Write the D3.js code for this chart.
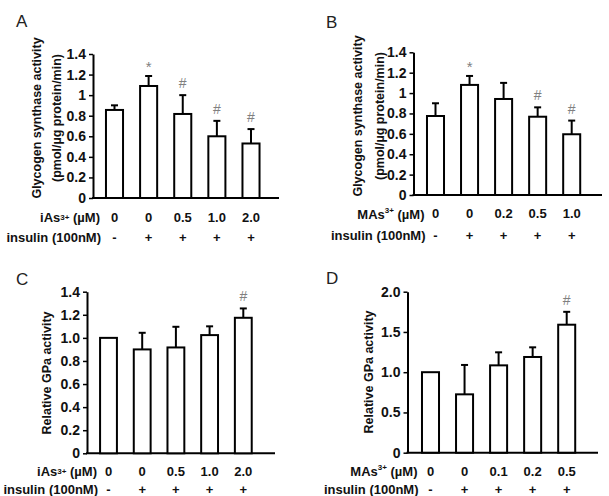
<!DOCTYPE html>
<html><head><meta charset="utf-8">
<script src="https://cdn.jsdelivr.net/npm/d3@7"></script>
<style>
html,body{margin:0;padding:0;background:#fff;}
svg{display:block;}
text{font-family:"Liberation Sans",Arial,sans-serif;}
</style></head>
<body>
<svg id="chart" width="609" height="496"></svg>
<script>
// ---------- data ----------
const panelLetters = ["A", "B", "C", "D"];
const insulinRow = ["-", "+", "+", "+", "+"];

const doseA = ["0", "0", "0.5", "1.0", "2.0"];
const valuesA = [0.856, 1.089, 0.817, 0.60, 0.53];
const errorsA = [0.045, 0.097, 0.183, 0.15, 0.14];
const marksA = ["", "*", "#", "#", "#"];

const doseB = ["0", "0", "0.2", "0.5", "1.0"];
const valuesB = [0.775, 1.08, 0.942, 0.768, 0.596];
const errorsB = [0.125, 0.088, 0.158, 0.092, 0.134];
const marksB = ["", "*", "", "#", "#"];

const doseC = ["0", "0", "0.5", "1.0", "2.0"];
const valuesC = [1.0, 0.90, 0.917, 1.024, 1.174];
const errorsC = [0, 0.144, 0.179, 0.076, 0.081];
const marksC = ["", "", "", "", "#"];

const doseD = ["0", "0", "0.1", "0.2", "0.5"];
const valuesD = [1.0, 0.725, 1.085, 1.189, 1.59];
const errorsD = [0, 0.365, 0.162, 0.12, 0.16];
const marksD = ["", "", "", "", "#"];

const ticksGS = [0, 0.2, 0.4, 0.6, 0.8, 1.0, 1.2, 1.4];
const tickLabelsGS = ["0", "0.2", "0.4", "0.6", "0.8", "1", "1.2", "1.4"];
const ticksC = [0, 0.2, 0.4, 0.6, 0.8, 1.0, 1.2, 1.4];
const tickLabelsC = ["0", "0.2", "0.4", "0.6", "0.8", "1.0", "1.2", "1.4"];
const ticksD = [0, 0.5, 1.0, 1.5, 2.0];
const tickLabelsD = ["0", "0.5", "1.0", "1.5", "2.0"];

const yTitleGS = ["Glycogen synthase activity", "(pmol/\u00b5g protein/min)"];
const yTitleGP = ["Relative GPa activity"];

// ---------- layout ----------
const panels = [
  {letter: panelLetters[0], lx: 16, ly: 27, ax: 93, y0: 198, yTop: 54, xEnd: 279, c1: 114.5, c5: 251,
   yMax: 1.4, ticks: ticksGS, tickLabels: tickLabelsGS, vals: valuesA, errs: errorsA, marks: marksA,
   dose: doseA, drug: "iAs", sup: "3+", supDy: 0, row1: 217, row2: 237, rowRight: 100,
   title: yTitleGS, titleX: [37, 57], titleCy: 118},
  {letter: panelLetters[1], lx: 326, ly: 28, ax: 413.5, y0: 195, yTop: 52.3, xEnd: 602, c1: 435.5, c5: 571.7,
   yMax: 1.4, ticks: ticksGS, tickLabels: tickLabelsGS, vals: valuesB, errs: errorsB, marks: marksB,
   dose: doseB, drug: "MAs", sup: "3+", supDy: -4, row1: 213.5, row2: 235, rowRight: 424.5,
   title: yTitleGS, titleX: [357.5, 380], titleCy: 116},
  {letter: panelLetters[2], lx: 16, ly: 285, ax: 87, y0: 453.3, yTop: 291.7, xEnd: 275, c1: 108.5, c5: 243.3,
   yMax: 1.4, ticks: ticksC, tickLabels: tickLabelsC, vals: valuesC, errs: errorsC, marks: marksC,
   dose: doseC, drug: "iAs", sup: "3+", supDy: 0, row1: 471, row2: 489, rowRight: 97,
   title: yTitleGP, titleX: [46.5], titleCy: 373},
  {letter: panelLetters[3], lx: 326, ly: 284, ax: 407.5, y0: 452.7, yTop: 291.7, xEnd: 598, c1: 430.5, c5: 566.7,
   yMax: 2.0, ticks: ticksD, tickLabels: tickLabelsD, vals: valuesD, errs: errorsD, marks: marksD,
   dose: doseD, drug: "MAs", sup: "3+", supDy: -4, row1: 471, row2: 489, rowRight: 417.5,
   title: yTitleGP, titleX: [368.5], titleCy: 372}
];

const svg = d3.select("#chart");

panels.forEach(p => {
  const g = svg.append("g");
  const n = p.vals.length;
  const step = (p.c5 - p.c1) / (n - 1);
  const x = d3.scaleBand().domain(d3.range(n))
    .range([p.c1 - step / 2, p.c5 + step / 2]).paddingInner(0.5).paddingOuter(0.25);
  const y = d3.scaleLinear().domain([0, p.yMax]).range([p.y0, p.yTop]);

  // panel letter
  g.append("text").attr("x", p.lx).attr("y", p.ly)
    .attr("font-family", "'Open Sans','DejaVu Sans',sans-serif")
    .attr("font-size", 17).attr("fill", "#222").text(p.letter);

  // y axis
  const yAxis = d3.axisLeft(y).tickValues(p.ticks)
    .tickFormat((d, i) => p.tickLabels[i]).tickSize(4).tickSizeOuter(0).tickPadding(3);
  const ya = g.append("g").attr("transform", `translate(${p.ax},0)`).call(yAxis);
  ya.select(".domain").attr("stroke", "#000").attr("stroke-width", 2);
  ya.selectAll(".tick line").attr("stroke", "#000").attr("stroke-width", 1.5);
  ya.selectAll(".tick text").attr("font-family", "'Liberation Sans',Arial,sans-serif")
    .attr("font-weight", "bold").attr("font-size", 14).attr("fill", "#111");

  // x axis line
  g.append("line").attr("x1", p.ax - 1).attr("x2", p.xEnd)
    .attr("y1", p.y0).attr("y2", p.y0).attr("stroke", "#000").attr("stroke-width", 2);

  // error bars
  const eb = g.append("g");
  p.vals.forEach((v, i) => {
    if (p.errs[i] <= 0) return;
    const cx = x(i) + x.bandwidth() / 2;
    eb.append("line").attr("x1", cx).attr("x2", cx).attr("y1", y(v)).attr("y2", y(v + p.errs[i]))
      .attr("stroke", "#000").attr("stroke-width", 2);
    eb.append("line").attr("x1", cx - 3.5).attr("x2", cx + 3.5)
      .attr("y1", y(v + p.errs[i])).attr("y2", y(v + p.errs[i]))
      .attr("stroke", "#000").attr("stroke-width", 2);
  });

  // bars
  g.append("g").selectAll("rect").data(p.vals).join("rect")
    .attr("x", (d, i) => x(i)).attr("width", x.bandwidth())
    .attr("y", d => y(d)).attr("height", d => p.y0 - y(d))
    .attr("fill", "#fff").attr("stroke", "#000").attr("stroke-width", 2);

  // significance marks
  g.append("g").selectAll("text").data(p.marks).join("text")
    .attr("x", (d, i) => x(i) + x.bandwidth() / 2)
    .attr("y", (d, i) => y(p.vals[i] + p.errs[i]) - (d === "*" ? 4 : 7))
    .attr("text-anchor", "middle")
    .attr("font-family", "'Liberation Serif','Times New Roman',serif")
    .attr("font-size", d => d === "*" ? 15 : 14).attr("fill", "#808080")
    .text(d => d);

  // category rows
  const lab = g.append("text").attr("x", p.rowRight).attr("y", p.row1)
    .attr("dominant-baseline", "central").attr("text-anchor", "end")
    .attr("font-weight", "bold").attr("font-size", 13).attr("fill", "#111");
  lab.append("tspan").text(p.drug);
  lab.append("tspan").attr("font-size", 8).attr("dy", p.supDy).text(p.sup);
  lab.append("tspan").attr("dy", -p.supDy).text(" (\u00b5M)");

  g.append("g").selectAll("text").data(p.dose).join("text")
    .attr("x", (d, i) => x(i) + x.bandwidth() / 2).attr("y", p.row1)
    .attr("dominant-baseline", "central").attr("text-anchor", "middle")
    .attr("font-weight", "bold").attr("font-size", 13).attr("fill", "#111").text(d => d);

  g.append("text").attr("x", p.rowRight + 1).attr("y", p.row2)
    .attr("dominant-baseline", "central").attr("text-anchor", "end")
    .attr("font-weight", "bold").attr("font-size", 13).attr("fill", "#111").text("insulin (100nM)");

  g.append("g").selectAll("text").data(insulinRow).join("text")
    .attr("x", (d, i) => x(i) + x.bandwidth() / 2).attr("y", p.row2)
    .attr("dominant-baseline", "central").attr("text-anchor", "middle")
    .attr("font-weight", "bold").attr("font-size", 13).attr("fill", "#111").text(d => d);

  // y title
  p.title.forEach((t, k) => {
    g.append("text").attr("transform", `translate(${p.titleX[k]},${p.titleCy}) rotate(-90)`)
      .attr("text-anchor", "middle").attr("dominant-baseline", "central")
      .attr("font-weight", "bold").attr("font-size", 12.5).attr("fill", "#111").text(t);
  });
});
</script>
</body></html>
